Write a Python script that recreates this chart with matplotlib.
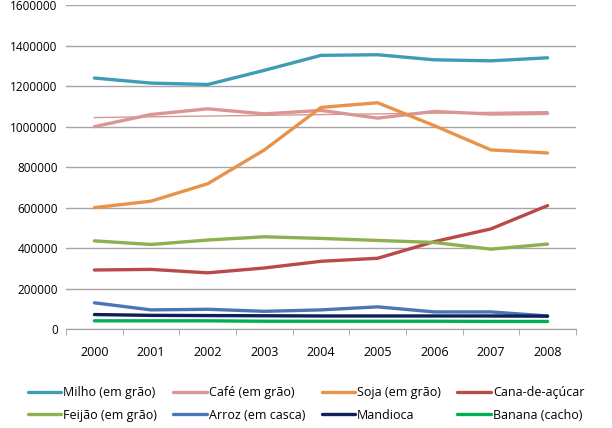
import matplotlib
matplotlib.use("Agg")
import matplotlib.pyplot as plt
import numpy as np

years = ["2000", "2001", "2002", "2003", "2004", "2005", "2006", "2007", "2008"]
milho = [1240000, 1215000, 1208000, 1278000, 1352000, 1355000, 1330000, 1325000, 1340000]
cafe = [1000000, 1060000, 1088000, 1063000, 1080000, 1042000, 1075000, 1062000, 1065000]
soja = [600000, 632000, 718000, 885000, 1095000, 1118000, 1005000, 885000, 870000]
cana = [292000, 295000, 278000, 302000, 335000, 350000, 432000, 495000, 610000]
feijao = [436000, 418000, 440000, 456000, 448000, 438000, 428000, 395000, 420000]
arroz = [130000, 95000, 98000, 88000, 95000, 110000, 85000, 85000, 65000]
mandioca = [72000, 68000, 67000, 66000, 65000, 65000, 65000, 65000, 64000]
banana = [41000, 41000, 41000, 39000, 39000, 39000, 39000, 38000, 38000]

names = ["Milho (em grão)", "Café (em grão)", "Soja (em grão)", "Cana-de-açúcar",
         "Feijão (em grão)", "Arroz (em casca)", "Mandioca", "Banana (cacho)"]
colors = ["#3E9DB5", "#D99694", "#E8924A", "#B94A48",
          "#8EB04F", "#4A77B4", "#0E1F5A", "#00B050"]
series = [milho, cafe, soja, cana, feijao, arroz, mandioca, banana]

plt.rcParams['font.family'] = ['Open Sans', 'DejaVu Sans']
fig = plt.figure(figsize=(6.12, 4.28), dpi=100)
ax = fig.add_axes([0.108, 0.231, 0.833, 0.757])
x = np.arange(len(years))

# Café trendline
coef = np.polyfit(x, cafe, 1)
ax.plot(x, np.polyval(coef, x), color="#D99694", lw=1.0, zorder=2)

handles = []
for s, c, n in zip(series, colors, names):
    h, = ax.plot(x, s, color=c, lw=2.4, label=n, zorder=3, solid_capstyle='round')
    handles.append(h)

ax.set_xlim(-0.5, len(years) - 0.5)
ax.set_ylim(0, 1600000)
ax.set_yticks(np.arange(0, 1600001, 200000))
ax.set_yticklabels([str(v) for v in range(0, 1600001, 200000)], fontsize=8.5)
ax.set_xticks(x)
ax.set_xticklabels(years, fontsize=9)
ax.set_xticks(np.arange(-0.5, len(years)), minor=True)
ax.tick_params(axis='x', which='major', length=0, pad=12)
ax.tick_params(axis='x', which='minor', length=4, color="#A0A0A0")
ax.tick_params(axis='y', length=0, pad=6)
ax.grid(axis='y', color="#A6A6A6", lw=1.0)
ax.set_axisbelow(True)
for sp in ['top', 'right', 'left']:
    ax.spines[sp].set_visible(False)
ax.spines['bottom'].set_color("#A0A0A0")

order = [0, 4, 1, 5, 2, 6, 3, 7]
fig.legend(handles=[handles[i] for i in order], labels=[names[i] for i in order],
           loc='lower center', bbox_to_anchor=(0.5, 0.0),
           ncol=4, frameon=False, fontsize=9, handlelength=2.7,
           handletextpad=0.15, columnspacing=1.3, borderaxespad=0.1,
           labelspacing=0.75)

fig.savefig("out.png", dpi=100)
